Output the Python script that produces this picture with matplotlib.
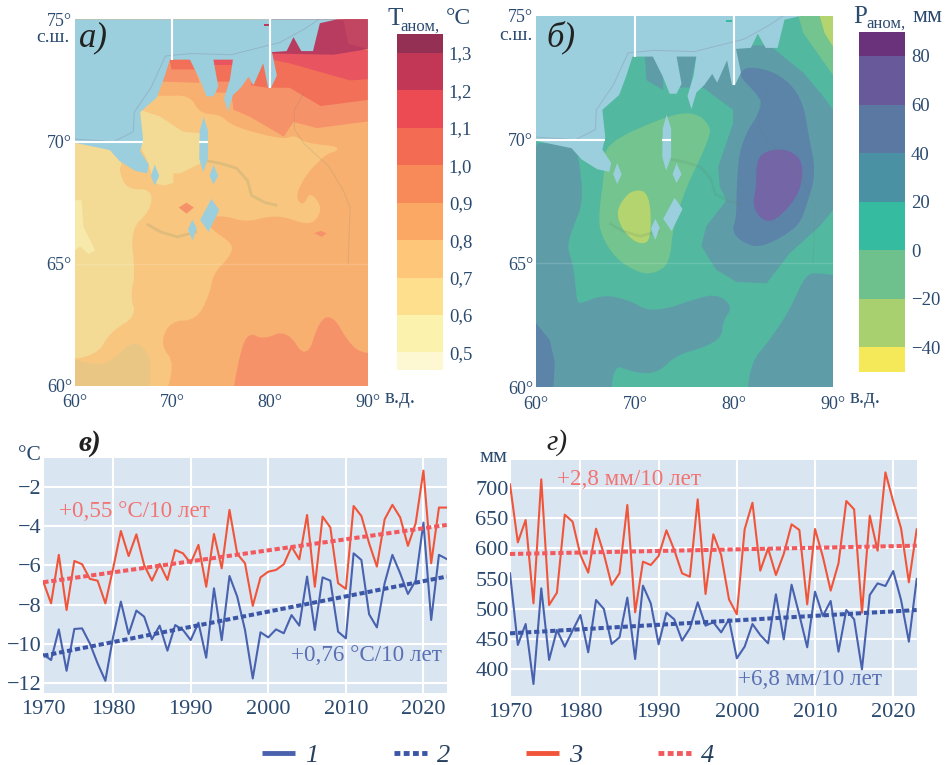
import matplotlib
matplotlib.use("Agg")
import matplotlib.pyplot as plt
from matplotlib.lines import Line2D
import numpy as np

plt.rcParams['font.family'] = ['Liberation Serif', 'DejaVu Serif']
W, H = 948, 765
INK = '#2B4A6F'

# ---------- time series ----------
years = list(range(1971, 2024))
temp_red = [-6.83,-7.94,-5.46,-8.28,-5.77,-5.94,-6.69,-6.78,-7.94,-6.15,-4.24,-5.52,-4.41,-5.98,-6.78,-5.92,-6.74,-5.21,-5.38,-5.89,
            -4.95,-7.09,-4.39,-6.15,-3.16,-5.41,-5.89,-8.07,-6.61,-6.32,-6.23,-5.94,-5.04,-5.69,-3.42,-7.09,-3.5,-4.06,-6.91,-7.2,
            -2.96,-3.47,-4.87,-6.06,-3.64,-2.9,-3.54,-5.0,-3.84,-1.15,-5.89,-3.04,-3.04]
temp_blue = [-10.55,-10.84,-9.27,-11.39,-9.25,-9.22,-9.99,-11.01,-11.9,-9.65,-7.85,-9.51,-8.31,-8.62,-9.78,-9.08,-10.36,-9.05,-9.3,-9.82,
             -8.93,-10.72,-7.17,-9.82,-6.54,-7.6,-9.3,-11.78,-9.42,-9.68,-9.27,-9.47,-8.54,-9.08,-6.57,-9.3,-6.61,-6.78,-9.39,-9.73,
             -5.38,-5.72,-8.5,-9.17,-6.91,-5.46,-6.4,-7.46,-6.78,-3.81,-8.79,-5.46,-5.67]
prec_red = [705.5,609.7,646.6,509,713.8,506.3,526.6,655.4,643.9,588.8,559.7,632.3,590.5,539.3,558.6,671.4,494.2,577.8,572.3,587.2,
            629.6,597.1,558.6,553,680.7,524.4,623,588.8,515.6,490.9,631.2,675.2,563,599.8,555.8,590.5,639.5,630.1,507.4,631.8,
            586,530,575,678,664.2,493.6,653.8,596,725.3,676.9,632.9,543.7,631.2]
prec_blue = [558.6,440.2,474.9,375.8,533.8,415.5,465,437.5,463.9,489.8,428.1,514.5,499.7,441.9,452.9,518.4,417.1,538.2,509,441.3,
             493.6,482.6,447.4,467.8,510.7,472.2,477.7,461.1,482.6,418.2,437.5,474.9,456.7,443,523.9,449.6,539.8,489.8,436.4,528.3,
             488.1,512.9,429.2,498,482.6,400,522.8,542,537.6,562.4,514.5,445.7,549.2]
trend_years = [1971, 2023]
temp_red_trend = [-6.86, -3.93]
temp_blue_trend = [-10.62, -6.57]
prec_red_trend = [590.5, 604.2]
prec_blue_trend = [459.5, 498.0]
year_ticks = [1971, 1980, 1990, 2000, 2010, 2020]
year_labels = ['1970', '1980', '1990', '2000', '2010', '2020']
temp_ticks = [-2, -4, -6, -8, -10, -12]
prec_ticks = [400, 450, 500, 550, 600, 650, 700]

# ---------- colour scales ----------
t_levels = [0.453, 0.5, 0.6, 0.7, 0.8, 0.9, 1.0, 1.1, 1.2, 1.3, 1.35]
t_colors = ['#FDF7D2', '#FBF2AE', '#FDDF8E', '#FDC678', '#FAA863', '#F78A58', '#F26B52', '#EC4B53', '#C23755', '#933053']
t_ticks = [0.5, 0.6, 0.7, 0.8, 0.9, 1.0, 1.1, 1.2, 1.3]
t_ticklabels = ['0,5', '0,6', '0,7', '0,8', '0,9', '1,0', '1,1', '1,2', '1,3']
p_levels = [-50, -40, -20, 0, 20, 40, 60, 80, 90]
p_colors = ['#F5E95A', '#A8D06E', '#6EC08C', '#35BB9F', '#4A91A3', '#5B78A3', '#685A9A', '#6B327C']
p_ticks = [-40, -20, 0, 20, 40, 60, 80]
p_ticklabels = ['−40', '−20', '0', '20', '40', '60', '80']

# ---------- geography (lon, lat) ----------
sea = [(60,75),(86.9,75),(85.1,74.84),(84.4,73.7),(83.2,73.7),(82.4,74.27),(81.7,73.7),(80.2,73.66),(80.7,72.7),(80.1,72.2),(79.8,72.2),
       (79.3,73.2),(78.3,72.3),(77.8,72.65),(77,72.2),(76.2,71.9),(75.7,71.23),(75.3,71.75),(75.9,72.55),(76.2,73.35),(74.2,73.35),
       (74.7,72.25),(74.2,71.85),(73.5,71.85),(72.8,72.55),(71.8,73.35),(69.75,73.35),(69.1,72.55),(68.4,71.8),(66.7,71.2),(67,70.1),
       (66.7,69.6),(67.6,69.05),(67.4,68.7),(66.2,68.8),(64.6,69.2),(63.6,69.65),(60,69.95)]
gulfs = [[(73.2,71.0),(73.65,70.45),(73.65,69.3),(73.15,68.75),(72.75,69.3),(72.8,70.45)],
         [(74.2,69.05),(74.7,68.6),(74.2,68.25),(73.8,68.6)],
         [(74.0,67.65),(74.8,67.2),(73.7,66.3),(72.85,66.8)],
         [(72.05,66.8),(72.5,66.45),(72.05,65.95),(71.6,66.4)],
         [(68.2,69.05),(68.65,68.6),(68.2,68.2),(67.8,68.6)]]
shelf_line = [(60,70.1),(64,70.0),(66,70.4),(66.1,71.2),(67.8,72.2),(69.3,73.5),(72,73.6),(76,73.55),(78,73.75),(81,74.05),(83.5,74.6),(85,75)]
ob_river = [(73.7,69.2),(75,69.1),(76.6,68.9),(77.7,68.4),(78.1,67.8),(79.5,67.5),(80.6,67.4)]
taz_river = [(72.4,66.3),(70.5,66.1),(68.8,66.3),(67.5,66.6)]
east_river = [(83.5,72),(82.5,71.3),(82.5,70.5),(83.5,69.9),(86,69),(87.5,68),(88.2,67.3),(88,65)]

# temperature anomaly field: (level colour, polygon, smooth)
t_land_base = '#F8B071'
t_fields = [
 ('#F8C67F', [(68.75,71.85),(71.8,71.9),(72.8,71.15),(74.9,71.1),(76.25,70.6),(81.4,70.07),(82.4,70.27),(83.75,69.93),(87,69.8),(86.8,69.6),
              (85.8,69.5),(83.75,68.7),(82.55,67.75),(83.4,67.35),(84.1,67.95),(85.3,67.35),(84.8,66.8),(83.75,66.6),(81.4,66.93),(79.7,66.93),
              (77.6,66.7),(74.9,67),(73.5,66.8),(74,66.4),(76.25,65.8),(75.9,65.3),(74.2,64.6),(73.85,63.8),(72.5,62.7),(69.75,62.65),
              (68.75,61.7),(70.3,60.9),(68.75,60),(60,60),(60,72),(66,72)], True),
 ('#F3DB96', [(60,70),(64,70),(64.9,69.1),(64.5,68.85),(65.3,68.05),(67.9,68.05),(67.8,67.2),(65.7,66.4),(66.2,64.6),(65.7,63.7),(66.3,62.85),
              (63.6,62.2),(62.3,61.25),(60,61)], True),
 ('#F3DB96', [(66.7,71.3),(68.75,71.02),(71.1,70.4),(72.85,70.34),(72.85,69.1),(70.8,68.7),(70.1,68.7),(70.1,68.3),(69.1,68.2),(68.2,68.3),(67.4,69.25),(66.7,69.8)], False),
 ('#F6E9AA', [(60,67.6),(60.7,67.6),(60.9,66.5),(62.1,65.55),(61.4,65.4),(60.55,65.7),(60,65.55)], False),
 ('#EAC685', [(60,60),(60,61.3),(61.5,60.9),(63.5,60.9),(66,61.9),(67.5,61.4),(67.9,60.6),(67.2,60)], True),
 ('#F6926A', [(69,73.4),(72,73.4),(72.8,72.4),(69,72.45)], False),
 ('#F27058', [(69.7,73.4),(71.8,73.4),(72.3,72.95),(69.9,72.95)], False),
 ('#F6926A', [(74,73.4),(76.4,73.4),(75.8,72.0),(74.5,72.0)], False),
 ('#F27058', [(74,73.4),(76.4,73.4),(76,72.45),(74.4,72.45)], False),
 ('#E85560', [(74,73.4),(76.4,73.4),(76.4,73.15),(74,73.15)], False),
 ('#F6926A', [(75.9,72.4),(77.3,72.7),(79.3,73.3),(80.2,73.8),(90,73.75),(90,70.82),(84.8,70.55),(82.4,70.8),(81.4,70.2),(78,71.0),(76.25,71.3)], False),
 ('#F27058', [(78,72.3),(79.3,73.3),(80.2,73.8),(90,73.75),(90,71.7),(85.2,71.45),(82,72.2),(79.7,72.2)], False),
 ('#E85560', [(80.2,73.8),(90,73.75),(90,72.55),(88.2,72.5),(85,72.86),(82,73.2),(80.2,73.35)], False),
 ('#B83C60', [(80.2,73.6),(80.2,75),(90,75),(90,73.78),(86.5,73.55)], False),
 ('#C24662', [(87.5,75),(90,75),(90,73.78),(88,74)], False),
 ('#F6926A', [(75.9,60),(76.9,61.35),(77.8,62.2),(79.3,61.9),(81.7,62.3),(83.75,61.05),(85.1,62.75),(86.5,62.85),(87.85,61.9),(89.2,61.35),(90,61.3),(90,60)], True),
 ('#F6926A', [(71.45,67.5),(72.2,67.3),(71.45,67.05),(70.65,67.3)], False),
 ('#F6926A', [(85.2,66.35),(85.8,66.25),(85.3,66.1),(84.5,66.25)], False),
 ('#F8B071', [(60,75),(60.9,75),(60.6,74.7),(60,74.7)], False),
]
t_island = [(79.4,74.8),(80,74.8),(80,74.73),(79.4,74.73)]
t_island_color = '#B83C60'

# precipitation anomaly field
p_land_base = '#52B8A0'
p_fields = [
 ('#5E9DA8', [(60,69.85),(63.9,69.85),(64.3,69.3),(64.8,67.55),(63.8,66.5),(63.1,65.7),(63.8,64.9),(64.1,63.55),(64.4,63.35),(66.8,63.75),(69.5,63.5),
              (71.2,63.1),(73.5,63.2),(75.2,63.45),(78.2,63.8),(79.9,63.25),(78.9,62.7),(78.75,62),(76.9,61.6),(74.2,61.3),(72.2,60.55),(69.8,60.6),
              (67.8,60.95),(67.5,60),(60,60)], True),
 ('#5E9DA8', [(81.25,60),(81.6,60.95),(83.6,61.9),(85.6,63.1),(87.3,64.6),(88.65,64.6),(90,64.45),(90,60)], True),
 ('#5E9DA8', [(76.55,72.2),(80.25,73.8),(83.6,73.8),(87,72.7),(89,71.75),(90,71.2),(90,67.15),(88.65,66.5),(85.6,65.4),(83.3,64.2),(80.25,64.25),
              (78.2,64.75),(76.7,65.7),(77.2,66.5),(79.25,67.55),(78.55,68.1),(78.4,68.9),(79.9,70.65),(79.9,71.2)], False),
 ('#5E9DA8', [(71,73.4),(71.85,73.4),(72.85,72.75),(72.85,72),(71.15,72.4)], False),
 ('#5E9DA8', [(74.2,73.4),(76.2,73.4),(75.55,72.1),(74.5,72.1)], False),
 ('#74C490', [(86.5,75),(87,74.3),(90,72.6),(90,75)], False),
 ('#B3D46E', [(88.65,75),(89.15,74.3),(90,73.75),(90,75)], False),
 ('#52B8A0', [(60,75),(60.9,75),(60.6,74.7),(60,74.7)], False),
 ('#5C83A8', [(80.4,72.6),(81.25,72.95),(83.6,72.8),(85.65,72.3),(87,71.45),(87.5,70.25),(88.3,68.65),(87.3,67.3),(86.65,66.6),(85,66.1),(82.95,65.7),
              (81.6,65.7),(79.75,66.2),(80.25,66.9),(80.25,68),(80.6,69.85),(82.95,71.35),(82.3,71.85)], True),
 ('#7465A6', [(82.25,69.05),(82.95,69.5),(84.95,69.65),(86.65,69.3),(87,68.65),(86.45,67.7),(84.3,66.75),(82.95,66.7),(81.85,67.3),(82.25,68.1)], True),
 ('#5C83A8', [(60,62.6),(61.4,61.9),(61.9,61),(61.75,60),(60,60)], False),
 ('#74C490', [(66.95,69.85),(73.5,71),(76.2,71.1),(77.7,70.5),(77.4,70),(76.55,69.2),(75.2,68.1),(73.85,66.5),(73.5,65),(72,64.6),(70.5,64.6),(68.15,65.15),
              (66.6,66.1),(66.3,66.9),(66.95,68.8)], True),
 ('#B3D46E', [(69.8,68),(71.5,67.85),(71.65,65.95),(70.5,65.75),(69,66.2),(68.15,66.9),(68.5,67.45)], True),
]
p_island = [(79.2,74.82),(79.8,74.82),(79.8,74.74),(79.2,74.74)]
p_island_color = '#35BB9F'

lon_ticks = [60, 70, 80, 90]
lat_ticks = [60, 65, 70, 75]
SEA = '#9BCFDD'


def axes_px(x0, y0, x1, y1):
    return fig.add_axes([x0 / W, 1 - y1 / H, (x1 - x0) / W, (y1 - y0) / H])


def chaikin(points, rounds=2):
    # round the contour corners; vertices on the frame go outside so the frame stays filled
    pts = np.asarray(points, float).copy()
    pts[pts[:, 0] == 60, 0] = 58
    pts[pts[:, 0] == 90, 0] = 92
    pts[pts[:, 1] == 60, 1] = 59
    pts[pts[:, 1] == 75, 1] = 76
    for _ in range(rounds):
        nxt = np.roll(pts, -1, axis=0)
        pts = np.column_stack([0.75 * pts + 0.25 * nxt, 0.25 * pts + 0.75 * nxt]).reshape(-1, 2)
    return pts


def fill_poly(ax, poly, color, **kw):
    xy = np.asarray(poly)
    ax.fill(xy[:, 0], xy[:, 1], color=color, lw=0, **kw)


def draw_map(ax, base, fields, island, island_color):
    ax.set_facecolor(base)
    for color, poly, smooth in fields:
        fill_poly(ax, chaikin(poly) if smooth else poly, color, zorder=1)
    for line, width in ((ob_river, 2), (taz_river, 2), (east_river, 0.8)):
        xy = np.asarray(line)
        ax.plot(xy[:, 0], xy[:, 1], color='#5E8A70', alpha=0.16, lw=width, zorder=2)
    fill_poly(ax, sea, SEA, zorder=3)
    for g in gulfs:
        fill_poly(ax, g, SEA, zorder=3)
    fill_poly(ax, island, island_color, zorder=4)
    xy = np.asarray(shelf_line)
    ax.plot(xy[:, 0], xy[:, 1], color='#8A8FA8', lw=0.7, alpha=0.4, zorder=4)
    ax.vlines(70, 73.35, 75, color='white', lw=1.5, zorder=5)
    ax.vlines(80, 72.2, 75, color='white', lw=1.5, zorder=5)
    ax.hlines(70, 60, 67, color='white', lw=1.5, zorder=5)
    ax.hlines(70, 72.75, 73.65, color='white', lw=1.5, zorder=5)
    ax.hlines(65, 60, 90, color='white', lw=1, alpha=0.15, zorder=5)
    ax.set_xlim(60, 90)
    ax.set_ylim(60, 75)
    ax.set_xticks(lon_ticks, [f'{v}°' for v in lon_ticks])
    ax.set_yticks(lat_ticks, [f'{v}°' for v in lat_ticks])
    ax.tick_params(length=0, labelsize=13, labelcolor=INK)
    ax.tick_params(axis='x', pad=6)
    ax.tick_params(axis='y', pad=2)
    for s in ax.spines.values():
        s.set_visible(False)


def draw_cbar(ax, levels, colors, ticks, labels):
    ax.bar(0, np.diff(levels), bottom=levels[:-1], width=1, color=colors, lw=0)
    ax.set_xlim(-0.5, 0.5)
    ax.set_ylim(levels[0], levels[-1])
    ax.set_xticks([])
    ax.set_yticks(ticks, labels)
    ax.yaxis.tick_right()
    ax.tick_params(length=0, labelsize=13.5, labelcolor=INK, pad=4)
    for s in ax.spines.values():
        s.set_visible(False)


def draw_series(ax, red, blue, red_tr, blue_tr, yticks, ylim):
    ax.set_facecolor('#DAE5F2')
    ax.plot(years, red, color='#F0553A', lw=1.5, zorder=3)
    ax.plot(years, blue, color='#4862AE', lw=1.5, zorder=3)
    ax.plot(trend_years, red_tr, color='#F2585C', lw=2.9, ls=(0, (1.3, 0.7)), zorder=4)
    ax.plot(trend_years, blue_tr, color='#3B56A6', lw=2.9, ls=(0, (1.3, 0.7)), zorder=4)
    ax.set_xlim(1971, 2023)
    ax.set_ylim(*ylim)
    ax.set_xticks(year_ticks, year_labels)
    ax.set_yticks(yticks, [str(v).replace('-', '−') for v in yticks])
    ax.grid(True, color='white', lw=1.5, zorder=1)
    ax.set_axisbelow(True)
    ax.tick_params(length=0, labelsize=16, labelcolor=INK, pad=1)
    ax.tick_params(axis='x', pad=5)
    for s in ax.spines.values():
        s.set_visible(False)


fig = plt.figure(figsize=(W / 100, H / 100), dpi=100, facecolor='white')

ax_a = axes_px(74.7, 19.3, 367.7, 386)
draw_map(ax_a, t_land_base, t_fields, t_island, t_island_color)
ax_b = axes_px(536, 15.7, 833, 387.3)
draw_map(ax_b, p_land_base, p_fields, p_island, p_island_color)

cb_a = axes_px(397.3, 34.3, 443.3, 370)
draw_cbar(cb_a, t_levels, t_colors, t_ticks, t_ticklabels)
cb_b = axes_px(859, 31.7, 905.3, 371.7)
draw_cbar(cb_b, p_levels, p_colors, p_ticks, p_ticklabels)

ax_c = axes_px(43.3, 458.3, 446.7, 692.7)
draw_series(ax_c, temp_red, temp_blue, temp_red_trend, temp_blue_trend, temp_ticks, (-12.51, -0.52))
ax_d = axes_px(510, 460, 916.7, 696)
draw_series(ax_d, prec_red, prec_blue, prec_red_trend, prec_blue_trend, prec_ticks, (356, 745.7))

ANN = dict(fontsize=16.6, va='center', zorder=6)
ax_c.text(1973.07, -3.25, '+0,55 °C/10 лет', color='#F27472', **ANN)
ax_c.text(2002.9, -10.62, '+0,76 °C/10 лет', color='#5A70B2', **ANN)
ax_d.text(1977, 712.7, '+2,8 мм/10 лет', color='#F27472', **ANN)
ax_d.text(2000.1, 383.5, '+6,8 мм/10 лет', color='#5A70B2', **ANN)


def ftext(x, y, s, **kw):
    kw.setdefault('color', INK)
    kw.setdefault('va', 'center')
    fig.text(x / W, 1 - y / H, s, **kw)


PANEL = dict(color='#222222', style='italic', fontsize=25)
ftext(79, 38, 'а)', **PANEL)
ftext(546, 37, 'б)', **PANEL)
ftext(79, 443, 'в)', fontsize=21, color='#222222', style='italic', weight='bold')
ftext(546, 443, 'г)', fontsize=21, color='#222222', style='italic')

ftext(36, 38, 'с.ш.', fontsize=14)
ftext(499, 36, 'с.ш.', fontsize=14)
ftext(385, 399, 'в.д.', fontsize=15)
ftext(850, 399, 'в.д.', fontsize=15)
ftext(18, 455, '°C', fontsize=15.5)
ftext(479, 458, 'мм', fontsize=16)

ftext(387, 19, 'T', fontsize=18)
ftext(400, 27, 'аном,', fontsize=12)
ftext(446, 19, '°C', fontsize=17)
ftext(853, 17, 'P', fontsize=18)
ftext(866, 24, 'аном,', fontsize=12)
ftext(912, 17, 'мм', fontsize=17)

handles = [Line2D([], [], color='#4A62AE', lw=3.5, solid_capstyle='butt'),
           Line2D([], [], color='#3B56A6', lw=3.5, ls=(0, (1.2, 0.7))),
           Line2D([], [], color='#F0553A', lw=3.5, solid_capstyle='butt'),
           Line2D([], [], color='#F2585C', lw=3.5, ls=(0, (1.2, 0.7)))]
fig.legend(handles, ['1', '2', '3', '4'], ncol=4, frameon=False, loc='center', bbox_to_anchor=(0.515, 1 - 755 / H),
           prop={'style': 'italic', 'size': 19}, handlelength=1.25, handletextpad=0.35, columnspacing=2.9,
           labelcolor='#27405F', borderpad=0)

fig.savefig('out.png', dpi=100)
